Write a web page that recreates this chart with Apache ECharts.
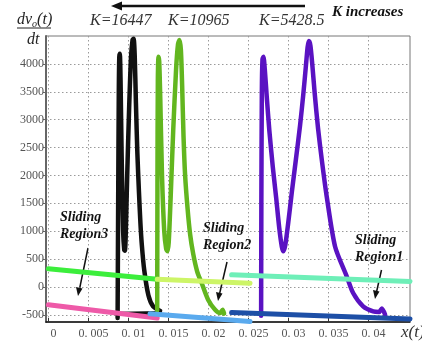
<!DOCTYPE html>
<html>
<head>
<meta charset="utf-8">
<script src="https://cdn.jsdelivr.net/npm/echarts@6/dist/echarts.min.js"></script>
<style>
  html, body { margin: 0; padding: 0; background: #fff; }
  #chart { width: 422px; height: 343px; }
</style>
</head>
<body>
<div id="chart"></div>
<script>
// tick labels
const xTicks = [0, 0.005, 0.01, 0.015, 0.02, 0.025, 0.03, 0.035, 0.04]
const yTicks = [-500, 0, 500, 1000, 1500, 2000, 2500, 3000, 3500, 4000]

// K = 16447 (black)
const blackX = [0.00865, 0.00872, 0.0088, 0.00886, 0.00893, 0.00902, 0.00915, 0.00934, 0.00948, 0.00956, 0.00966, 0.00985, 0.01009, 0.01032, 0.01052, 0.01065, 0.01079, 0.01094, 0.01112, 0.01132, 0.0115, 0.01168, 0.01198, 0.0125, 0.01309, 0.01396]
const blackY = [-560, 1500, 3500, 4120, 4180, 3700, 2400, 1000, 660, 650, 900, 2000, 3200, 4100, 4430, 4450, 4150, 3300, 2400, 1700, 1150, 750, 300, -150, -350, -430]
const blackSlideX = [0.0087, 0.0139]
const blackSlideY = [-480, -470]

// K = 10965 (green)
const greenX = [0.0136, 0.01363, 0.01368, 0.01376, 0.01385, 0.01398, 0.0142, 0.01448, 0.01472, 0.01488, 0.01504, 0.01528, 0.0156, 0.01596, 0.0162, 0.01638, 0.01656, 0.01672, 0.01689, 0.01709, 0.0174, 0.01771, 0.01809, 0.01859, 0.01918, 0.01996, 0.02084, 0.02146, 0.02178, 0.02196]
const greenY = [-420, 1800, 3700, 4130, 4050, 3400, 2000, 1000, 680, 640, 800, 1600, 2800, 3900, 4350, 4430, 4250, 3600, 2700, 2000, 1400, 950, 600, 280, 60, -230, -410, -470, -410, -480]

// K = 5428.5 (purple)
const purpleX = [0.02659, 0.02662, 0.02668, 0.02676, 0.02688, 0.02705, 0.0273, 0.02762, 0.02805, 0.02846, 0.02886, 0.02918, 0.02938, 0.02962, 0.02998, 0.03043, 0.03095, 0.03146, 0.03186, 0.03218, 0.0324, 0.03256, 0.03275, 0.03298, 0.0333, 0.0337, 0.0342, 0.0348, 0.03584, 0.0373, 0.03809, 0.03934, 0.04059, 0.04134, 0.04168, 0.04209]
const purpleY = [-520, 1500, 3500, 4080, 4130, 3900, 3400, 2800, 2150, 1610, 1050, 720, 640, 760, 1150, 1700, 2300, 2900, 3450, 3950, 4300, 4410, 4330, 4000, 3450, 2850, 2250, 1610, 720, 185, -110, -350, -440, -450, -390, -500]

// sliding regions
const limeX = [0, 0.0136]
const limeY = [324, 136]
const yellowX = [0.0136, 0.0252]
const yellowY = [136, 64]
const aquaX = [0.0229, 0.0452]
const aquaY = [217, 97]
const pinkX = [0, 0.0136]
const pinkY = [-320, -560]
const skyX = [0.0127, 0.0252]
const skyY = [-480, -620]
const navyX = [0.0229, 0.0452]
const navyY = [-460, -575]

const pairs = (xs, ys) => xs.map((x, i) => [x, ys[i]])

const chart = echarts.init(document.getElementById('chart'))
const serif = 'Liberation Serif'

function curve(xs, ys, color, width, smooth) {
  return {
    type: 'line',
    data: pairs(xs, ys),
    symbol: 'none',
    smooth: smooth,
    lineStyle: { color: color, width: width, cap: 'round', join: 'round' },
    z: 3
  }
}

const option = {
  animation: false,
  backgroundColor: '#fff',
  grid: { left: 46, right: 12, top: 36, bottom: 21, show: true, borderColor: '#777', borderWidth: 1 },
  xAxis: {
    type: 'value',
    min: -0.0003,
    max: 0.0452,
    axisLine: { show: true, onZero: false, lineStyle: { color: '#111', width: 1.5 } },
    axisTick: { show: true, inside: true, length: 4, customValues: xTicks, lineStyle: { color: '#333' } },
    axisLabel: {
      customValues: xTicks,
      color: '#555',
      fontFamily: serif,
      fontSize: 12,
      margin: 6,
      padding: [0, 0, 0, 10],
      formatter: (v) => (v === 0 ? '0' : String(v).replace('.', '. '))
    },
    splitLine: { show: true, lineStyle: { color: '#9a9a9a', type: [1.5, 2.5], width: 1 } }
  },
  yAxis: {
    type: 'value',
    min: -630,
    max: 4500,
    axisLine: { show: true, onZero: false, lineStyle: { color: '#666', width: 2 } },
    axisTick: { show: true, inside: false, length: 3, customValues: yTicks, lineStyle: { color: '#666' } },
    axisLabel: { customValues: yTicks, color: '#555', fontFamily: serif, fontSize: 12, margin: 2, formatter: (v) => String(v) },
    splitLine: { show: true, lineStyle: { color: '#9a9a9a', type: [1.5, 2.5], width: 1 } }
  },
  series: [
    curve(blackSlideX, blackSlideY, '#111', 4, false),
    curve(blackX, blackY, '#111', 4.5, 0.25),
    curve(greenX, greenY, '#62b61f', 4.5, 0.25),
    curve(purpleX, purpleY, '#5a12c2', 4.5, 0.25),
    curve(limeX, limeY, '#3cee3c', 5, false),
    curve(yellowX, yellowY, '#cdf567', 5, false),
    curve(aquaX, aquaY, '#6eefb8', 5, false),
    curve(pinkX, pinkY, '#ee5aa8', 5, false),
    curve(skyX, skyY, '#5aaaee', 5, false),
    curve(navyX, navyY, '#1d4fa6', 5, false)
  ],
  graphic: [
    // y axis label as a fraction
    {
      type: 'text', left: 17, top: 12,
      style: {
        text: '{a|dv}{s|o}{a|(t)}',
        rich: {
          a: { fontFamily: serif, fontStyle: 'italic', fontSize: 16, fill: '#222' },
          s: { fontFamily: serif, fontStyle: 'italic', fontSize: 10, fill: '#222', padding: [8, 0, 0, 0] }
        }
      }
    },
    { type: 'line', shape: { x1: 17, y1: 28, x2: 51, y2: 28 }, style: { stroke: '#222', lineWidth: 1 } },
    { type: 'text', left: 27, top: 32, style: { text: 'dt', fontFamily: serif, fontStyle: 'italic', fontSize: 16, fill: '#222' } },
    // K values
    { type: 'text', left: 90, top: 13, style: { text: 'K=16447', fontFamily: serif, fontStyle: 'italic', fontSize: 16, fill: '#333' } },
    { type: 'text', left: 168, top: 13, style: { text: 'K=10965', fontFamily: serif, fontStyle: 'italic', fontSize: 16, fill: '#333' } },
    { type: 'text', left: 259, top: 13, style: { text: 'K=5428.5', fontFamily: serif, fontStyle: 'italic', fontSize: 16, fill: '#333' } },
    { type: 'text', left: 332, top: 5, style: { text: 'K increases', fontFamily: serif, fontStyle: 'italic', fontWeight: 'bold', fontSize: 15, fill: '#111' } },
    // arrow pointing left
    { type: 'line', shape: { x1: 305, y1: 6, x2: 118, y2: 6 }, style: { stroke: '#111', lineWidth: 2.5 } },
    { type: 'polygon', shape: { points: [[111, 6], [122, 1.5], [122, 10.5]] }, style: { fill: '#111' } },
    // sliding region notes
    { type: 'text', left: 60, top: 209, style: { text: 'Sliding\nRegion3', fontFamily: serif, fontStyle: 'italic', fontWeight: 'bold', fontSize: 14, lineHeight: 17, fill: '#111', align: 'center', x: 24 } },
    { type: 'line', shape: { x1: 88, y1: 248, x2: 79.5, y2: 289 }, style: { stroke: '#111', lineWidth: 1.5 } },
    { type: 'polygon', shape: { points: [[78, 296], [76, 287], [82.5, 288.5]] }, style: { fill: '#111' } },
    { type: 'text', left: 203, top: 220, style: { text: 'Sliding\nRegion2', fontFamily: serif, fontStyle: 'italic', fontWeight: 'bold', fontSize: 14, lineHeight: 17, fill: '#111', align: 'center', x: 25 } },
    { type: 'line', shape: { x1: 227, y1: 262, x2: 219.5, y2: 294 }, style: { stroke: '#111', lineWidth: 1.5 } },
    { type: 'polygon', shape: { points: [[218, 301], [216, 292], [222.5, 293.5]] }, style: { fill: '#111' } },
    { type: 'text', left: 355, top: 232, style: { text: 'Sliding\nRegion1', fontFamily: serif, fontStyle: 'italic', fontWeight: 'bold', fontSize: 14, lineHeight: 17, fill: '#111', align: 'center', x: 26 } },
    { type: 'line', shape: { x1: 381.5, y1: 270, x2: 376.5, y2: 292 }, style: { stroke: '#111', lineWidth: 1.5 } },
    { type: 'polygon', shape: { points: [[375, 299], [373, 290], [379.5, 291.5]] }, style: { fill: '#111' } },
    // x axis name, cut at the right edge
    { type: 'text', left: 401, top: 324, style: { text: 'x(t)', fontFamily: serif, fontStyle: 'italic', fontSize: 17, fill: '#333' } }
  ]
}

chart.setOption(option)
</script>
</body>
</html>
